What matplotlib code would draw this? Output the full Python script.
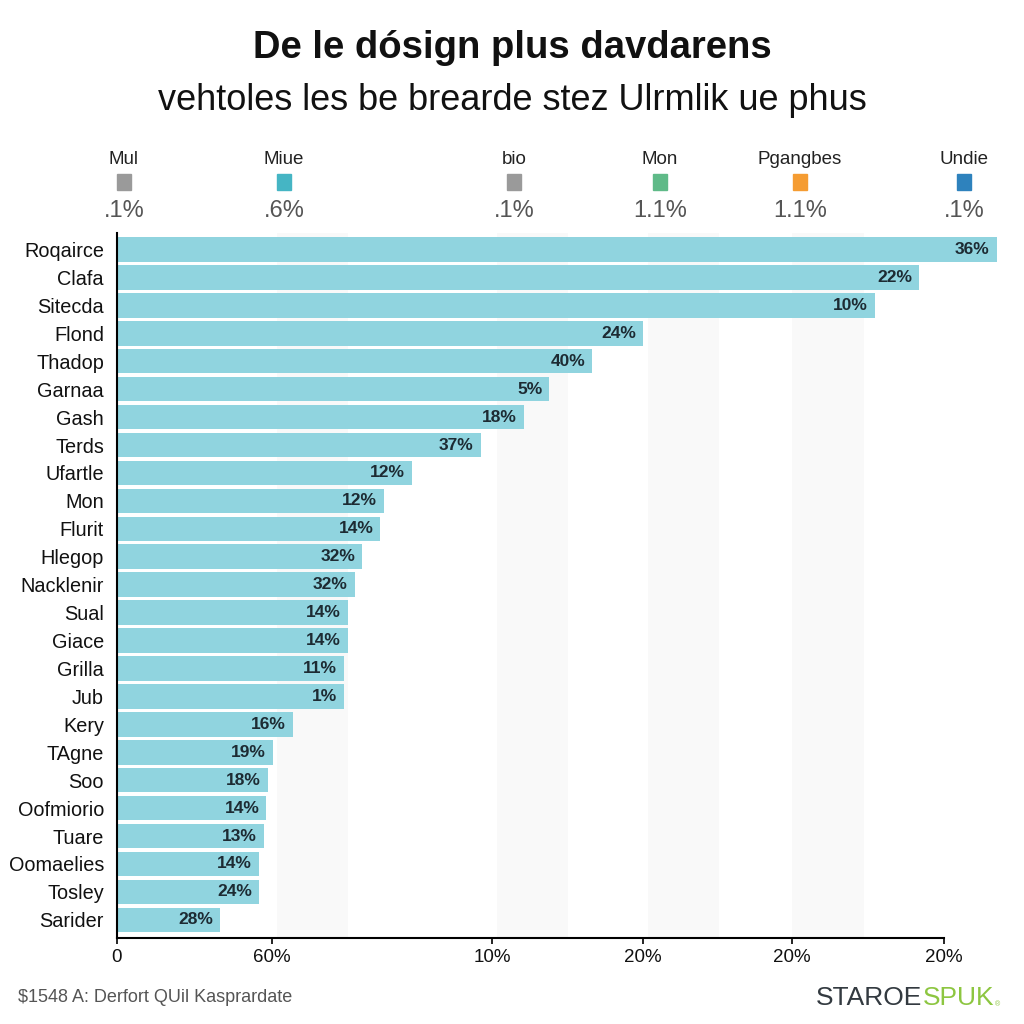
import matplotlib
matplotlib.use("Agg")
import matplotlib.pyplot as plt
from matplotlib.patches import Rectangle

plt.rcParams['font.family'] = ['Liberation Sans', 'DejaVu Sans']

# text
title = "De le dósign plus davdarens"
subtitle = "vehtoles les be brearde stez Ulrmlik ue phus"
source = r"\$1548 A: Derfort QUil Kasprardate"

# bars (lengths, labels as printed on the bars)
categories = ["Roqairce", "Clafa", "Sitecda", "Flond", "Thadop", "Garnaa", "Gash",
              "Terds", "Ufartle", "Mon", "Flurit", "Hlegop", "Nacklenir", "Sual",
              "Giace", "Grilla", "Jub", "Kery", "TAgne", "Soo", "Oofmiorio", "Tuare",
              "Oomaelies", "Tosley", "Sarider"]
values = [106.4, 97.0, 91.7, 63.7, 57.5, 52.3, 49.2, 44.0, 35.7, 32.3, 31.9, 29.7,
          28.8, 28.0, 28.0, 27.5, 27.5, 21.3, 18.9, 18.3, 18.1, 17.8, 17.2, 17.2, 12.5]
bar_labels = ["36%", "22%", "10%", "24%", "40%", "5%", "18%", "37%", "12%", "12%",
              "14%", "32%", "32%", "14%", "14%", "11%", "1%", "16%", "19%", "18%",
              "14%", "13%", "14%", "24%", "28%"]

# x axis
tick_pos = [0, 18.8, 45.4, 63.6, 81.6, 100]
tick_labels = ["0", "60%", "10%", "20%", "20%", "20%"]

# top key
key_names = ["Mul", "Miue", "bio", "Mon", "Pgangbes", "Undie"]
key_values = [".1%", ".6%", ".1%", "1.1%", "1.1%", ".1%"]
key_colors = ["#9a9a9a", "#45b5c4", "#9a9a9a", "#5fba88", "#f59c32", "#2e82bd"]

# layout
W = 1024.0
key_x = [124, 284, 514, 660, 800, 964]
band_starts = [19.4, 46.0, 64.2, 81.7]
band_width = 8.6
bar_color = "#90d4df"

fig = plt.figure(figsize=(10.24, 10.24), dpi=100)
fig.patch.set_facecolor("white")

ax = fig.add_axes([116.5 / W, 1 - 938 / W, (1010 - 116.5) / W, (938 - 233) / W])
n = len(categories)
ypos = list(range(n))

for s in band_starts:
    ax.axvspan(s, s + band_width, color="#f9f9f9", zorder=0, lw=0)

ax.barh(ypos, values, height=0.88, color=bar_color, zorder=2)

for y, v, lab in zip(ypos, values, bar_labels):
    ax.annotate(lab, xy=(v, y), xytext=(-5, 0), textcoords="offset points",
                ha="right", va="center", fontsize=12.5, fontweight="bold",
                color="#1d2b33", zorder=3)

ax.set_xlim(0, 108)
ax.set_ylim(24.65, -0.59)

for side in ["top", "right"]:
    ax.spines[side].set_visible(False)
ax.spines["left"].set_linewidth(1.5)
ax.spines["bottom"].set_linewidth(1.5)
ax.spines["bottom"].set_bounds(0, 100)

ax.set_yticks(ypos)
ax.set_yticklabels(categories, fontsize=14.3, color="#111111")
ax.tick_params(axis="y", length=0, pad=9)
ax.set_xticks(tick_pos)
ax.set_xticklabels(tick_labels, fontsize=13.5, color="#111111")
ax.tick_params(axis="x", length=4, width=1.2, pad=4)

# headings
fig.text(0.5, 1 - 48 / W, title, ha="center", va="center", fontsize=27.5,
         fontweight="bold", color="#111111")
fig.text(0.5, 1 - 101 / W, subtitle, ha="center", va="center", fontsize=26,
         color="#111111")

# key row
for x, name, val, col in zip(key_x, key_names, key_values, key_colors):
    fig.text(x / W, 1 - 160 / W, name, ha="center", va="center", fontsize=13.5,
             color="#222222")
    fig.add_artist(Rectangle(((x - 7) / W, 1 - 190 / W), 14 / W, 16 / W,
                             transform=fig.transFigure, color=col))
    fig.text(x / W, 1 - 211 / W, val, ha="center", va="center", fontsize=17,
             color="#555555")

# footer
fig.text(18 / W, 1 - 998 / W, source, ha="left", va="center", fontsize=13,
         color="#555555")
spuk = fig.text(994 / W, 1 - 998 / W, "SPUK", ha="right", va="center", fontsize=19,
                color="#8dc641")
ax.annotate("STAROE", xy=(0, 0.5), xycoords=spuk, ha="right", va="center",
            fontsize=19, color="#333a40")
fig.text(995 / W, 1 - 1005 / W, "®", ha="left", va="center", fontsize=5,
         color="#8dc641")

fig.savefig("out.png", dpi=100, facecolor="white")
